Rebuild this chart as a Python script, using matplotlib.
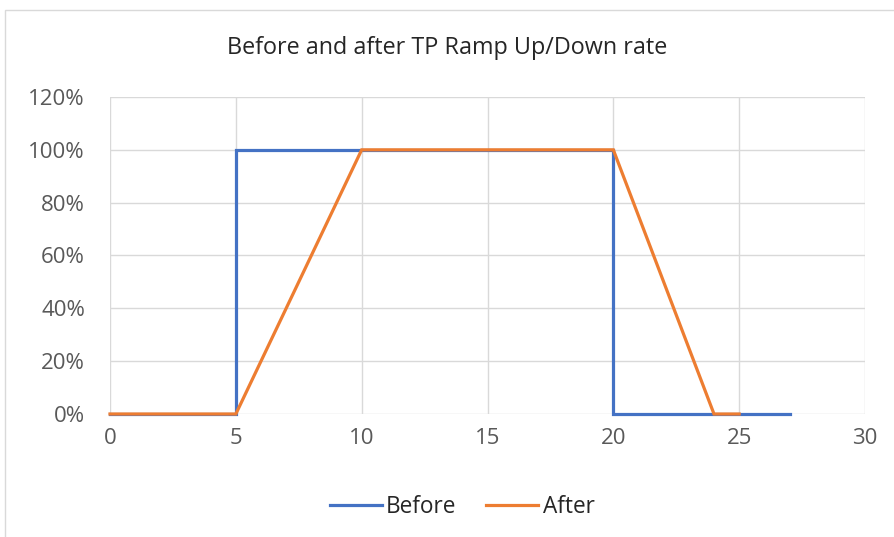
import matplotlib
matplotlib.use("Agg")
import matplotlib.pyplot as plt
from matplotlib.patches import Rectangle
from matplotlib.ticker import FuncFormatter, MultipleLocator

# Ramp profiles (time vs. output fraction)
before_x = [0, 5, 5, 20, 20, 27]
before_y = [0, 0, 1.0, 1.0, 0, 0]
after_x = [0, 5, 10, 20, 24, 25]
after_y = [0, 0, 1.0, 1.0, 0, 0]

title = "Before and after TP Ramp Up/Down rate"
series_names = ["Before", "After"]
colors = ["#4472C4", "#ED7D31"]

plt.rcParams["font.family"] = ["Open Sans", "DejaVu Sans"]

W, H = 894, 537
fig = plt.figure(figsize=(W / 100, H / 100), dpi=100)

# chart frame
fig.patches.append(Rectangle((5 / W, 0 - 0.1), 1.1, (H - 10) / H + 0.1,
                             transform=fig.transFigure, fill=False,
                             edgecolor="#D9D9D9", linewidth=1.0))

left, right = 110 / W, 865 / W
bottom, top = 1 - 414 / H, 1 - 97 / H
ax = fig.add_axes([left, bottom, right - left, top - bottom])

ax.plot(before_x, before_y, color=colors[0], linewidth=2.3,
        label=series_names[0], solid_joinstyle="miter", zorder=3,
        clip_on=False)
ax.plot(after_x, after_y, color=colors[1], linewidth=2.3,
        label=series_names[1], solid_joinstyle="miter", zorder=4,
        clip_on=False)

ax.set_xlim(0, 30)
ax.set_ylim(0, 1.2)
ax.xaxis.set_major_locator(MultipleLocator(5))
ax.yaxis.set_major_locator(MultipleLocator(0.2))
ax.yaxis.set_major_formatter(FuncFormatter(lambda v, p: f"{v * 100:.0f}%"))

ax.grid(True, color="#D9D9D9", linewidth=1.0, zorder=0)
for s in ax.spines.values():
    s.set_visible(False)
ax.tick_params(length=0, labelsize=16, labelcolor="#595959")
ax.tick_params(axis="x", pad=10)
ax.tick_params(axis="y", pad=18)

fig.text(0.5, 1 - 48 / H, title, ha="center", va="center",
         fontsize=16.8, color="#262626")

leg = fig.legend(loc="center", bbox_to_anchor=(462 / W, 1 - 507 / H), ncol=2,
                 frameon=False, fontsize=16.3, handlelength=2.3,
                 columnspacing=1.3, handletextpad=0.2)
for t in leg.get_texts():
    t.set_color("#262626")

fig.savefig("out.png", dpi=100)
